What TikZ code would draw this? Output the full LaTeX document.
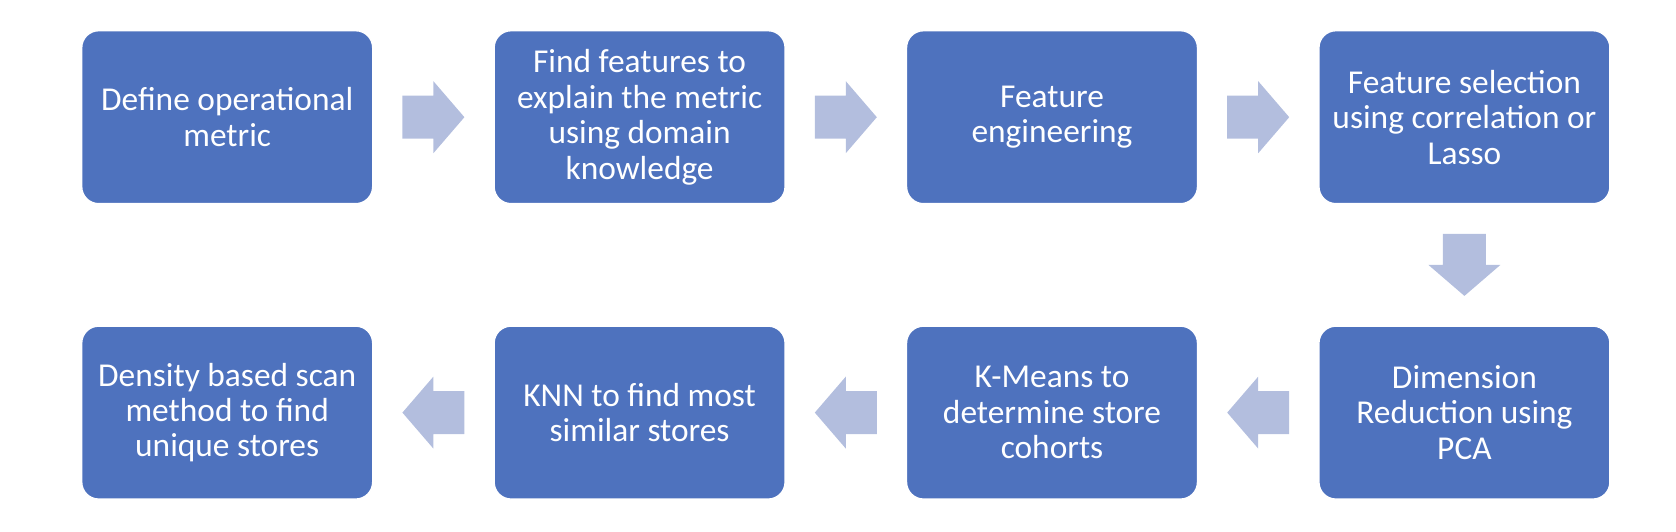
\documentclass[tikz,border=0pt]{standalone}
\usepackage{fontspec}
\setmainfont{Carlito}
\usetikzlibrary{positioning, calc}
\definecolor{boxblue}{HTML}{4E72BE}
\definecolor{arrowblue}{HTML}{B3BEDE}

\begin{document}
\begin{tikzpicture}
[
    procbox/.style = {rectangle, rounded corners = 0.17cm, fill = boxblue, draw = white, line width = 0.4pt,
        text = white, minimum width = 2.91cm, minimum height = 1.73cm, inner sep = 0pt,
        align = center, font = \fontsize{9.5}{10.1}\selectfont},
    flowarrow/.pic = {
        \fill[arrowblue] (-0.31,-0.215) -- (0,-0.215) -- (0,-0.36) -- (0.31,0)
            -- (0,0.36) -- (0,0.215) -- (-0.31,0.215) -- cycle;
    },
    node distance = 1.21cm and 1.20cm
]
\useasboundingbox (0,0) rectangle (16.76,-5.32);

\node[procbox, anchor = north west] (define) at (0.81,-0.30) {Define operational\\metric};
\node[procbox, right = of define] (findfeat) {Find features to\\explain the metric\\using domain\\knowledge};
\node[procbox, right = of findfeat] (feateng) {Feature\\engineering};
\node[procbox, right = of feateng] (featsel) {Feature selection\\using correlation or\\Lasso};
\node[procbox, below = of featsel] (dimred) {Dimension\\Reduction using\\PCA};
\node[procbox, left = of dimred] (kmeans) {K-Means to\\determine store\\cohorts};
\node[procbox, left = of kmeans] (knn) {KNN to find most\\similar stores};
\node[procbox, left = of knn] (dbscan) {Density based scan\\method to find\\unique stores};

\pic at ($(define.east)!0.5!(findfeat.west)$) {flowarrow};
\pic at ($(findfeat.east)!0.5!(feateng.west)$) {flowarrow};
\pic at ($(feateng.east)!0.5!(featsel.west)$) {flowarrow};
\pic[rotate = -90] at ($(featsel.south)!0.5!(dimred.north)$) {flowarrow};
\pic[rotate = 180] at ($(dimred.west)!0.5!(kmeans.east)$) {flowarrow};
\pic[rotate = 180] at ($(kmeans.west)!0.5!(knn.east)$) {flowarrow};
\pic[rotate = 180] at ($(knn.west)!0.5!(dbscan.east)$) {flowarrow};
\end{tikzpicture}
\end{document}
